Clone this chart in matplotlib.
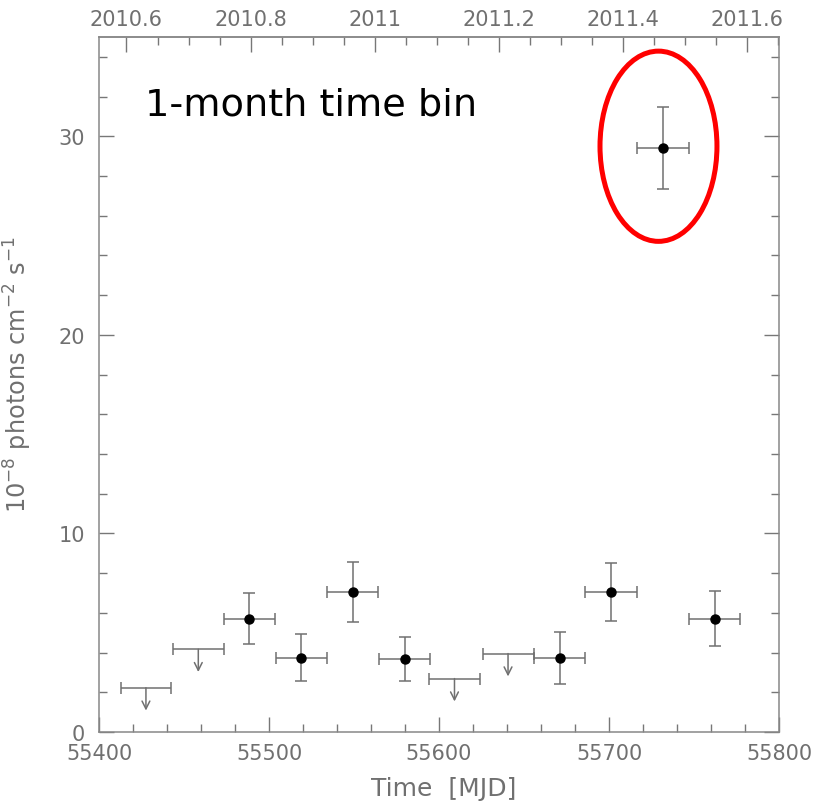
import numpy as np
import matplotlib
matplotlib.use("Agg")
import matplotlib.pyplot as plt
from matplotlib.ticker import MultipleLocator, FixedLocator, FuncFormatter
from matplotlib.patches import Ellipse

# detections: bin centre (MJD), half width (days), flux, error
det_t = [55488.5, 55519.0, 55549.3, 55579.9, 55670.9, 55701.2, 55731.5, 55762.1]
det_dt = [15.0, 15.0, 15.1, 15.0, 15.0, 15.1, 15.3, 15.1]
det_f = [5.70, 3.75, 7.04, 3.67, 3.72, 7.07, 29.42, 5.71]
det_err = [1.29, 1.18, 1.50, 1.10, 1.31, 1.46, 2.07, 1.39]

# upper limits
ul_t = [55427.6, 55458.4, 55609.1, 55640.6]
ul_dt = [14.9, 15.0, 14.9, 15.0]
ul_f = [2.23, 4.17, 2.69, 3.95]

# decimal-year ticks on top axis
yr_major = [2010.6, 2010.8, 2011.0, 2011.2, 2011.4, 2011.6]
yr_minor = np.arange(2010.55, 2011.66, 0.05)

grey = "#707070"
tick_col = "#777777"


def mjd2yr(m):
    return 2010.0 + (np.asarray(m) - 55197.0) / 365.25


def yr2mjd(y):
    return 55197.0 + (np.asarray(y) - 2010.0) * 365.25


fig = plt.figure(figsize=(8.17, 8.04), dpi=100)
ax = fig.add_axes([0.1212, 0.0883, 0.8323, 0.8644])

ax.errorbar(det_t, det_f, xerr=det_dt, yerr=det_err, fmt="o", color="black",
            ms=6.5, ecolor=grey, elinewidth=1.1, capsize=4, capthick=1.1, zorder=3)
ax.errorbar(ul_t, ul_f, xerr=ul_dt, fmt="none", ecolor=grey,
            elinewidth=1.1, capsize=4, capthick=1.1)
for t, f in zip(ul_t, ul_f):
    ax.annotate("", xy=(t, f - 1.15), xytext=(t, f),
                arrowprops=dict(arrowstyle="->", color=grey, lw=1.1,
                                mutation_scale=14, shrinkA=0, shrinkB=0))

ax.add_patch(Ellipse((55729.1, 29.5), 68.8, 9.58, fill=False,
                     edgecolor="red", lw=3.6, zorder=4))

ax.text(55427, 31.6, "1-month time bin", fontsize=27.5, color="black",
        ha="left", va="center")

ax.set_xlim(55400, 55800)
ax.set_ylim(0, 35)
ax.xaxis.set_major_locator(MultipleLocator(100))
ax.xaxis.set_minor_locator(MultipleLocator(20))
ax.yaxis.set_major_locator(MultipleLocator(10))
ax.yaxis.set_minor_locator(MultipleLocator(2))
ax.tick_params(which="both", direction="in", colors=tick_col, labelcolor=grey,
               labelsize=15, right=True, top=False)
ax.tick_params(which="major", length=11, width=1)
ax.tick_params(which="minor", length=5.5, width=1)
ax.tick_params(axis="x", pad=8)
ax.tick_params(axis="y", pad=10)

sec = ax.secondary_xaxis("top", functions=(mjd2yr, yr2mjd))
sec.xaxis.set_major_locator(FixedLocator(yr_major))
sec.xaxis.set_minor_locator(FixedLocator(yr_minor))
sec.xaxis.set_major_formatter(FuncFormatter(lambda v, p: "%g" % round(v, 2)))
sec.tick_params(which="both", direction="in", colors=tick_col, labelcolor=grey,
                labelsize=15, pad=6)
sec.tick_params(which="major", length=11, width=1)
sec.tick_params(which="minor", length=5.5, width=1)

for sp in list(ax.spines.values()) + list(sec.spines.values()):
    sp.set_color("#888888")
    sp.set_linewidth(1.1)

ax.set_xlabel("Time  [MJD]", fontsize=18, color=grey)
ax.xaxis.set_label_coords(0.507, -0.064)
ax.set_ylabel(r"10$^{-8}$ photons cm$^{-2}$ s$^{-1}$", fontsize=17.3,
              color=grey)
ax.yaxis.set_label_coords(-0.095, 0.515)

fig.savefig("out.png", dpi=100, facecolor="white")
